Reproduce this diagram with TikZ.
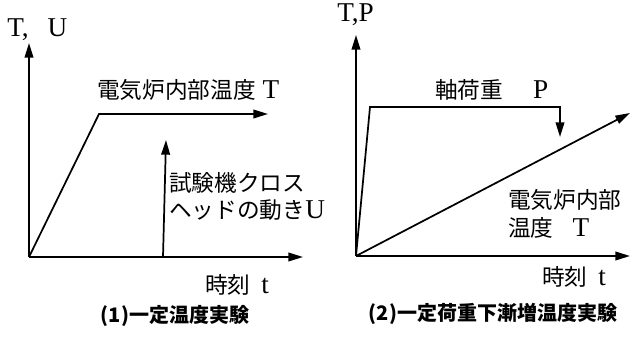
\documentclass[tikz,border=0pt]{standalone}
\usepackage{fontspec}
\setmainfont{Liberation Serif}[Scale=1.2]
\newfontfamily\cjk{Noto Sans CJK JP}
\usetikzlibrary{arrows.meta}
\tikzset{
  ax/.style={line width=1.3pt,-{Triangle[length=11pt,width=6.5pt]}},
  lbl/.style={anchor=west,inner sep=0pt,font=\fontsize{17}{19}\selectfont},
  captxt/.style={inner sep=0pt,font=\cjk\bfseries\fontsize{15}{17}\selectfont}
}
\begin{document}
\begin{tikzpicture}[x=0.75pt,y=-0.75pt]
\useasboundingbox (0,0) rectangle (635,338);
% left panel
\coordinate (O1) at (29,257);
\coordinate (Y1) at (29,43);
\coordinate (X1) at (303,257);
\coordinate (Ta) at (99,114);
\coordinate (Tb) at (268,114);
\coordinate (Ua) at (163,257);
\coordinate (Ub) at (166,140);
\draw[ax] (O1) -- (Y1);
\draw[ax] (O1) -- (X1);
\draw[ax] (O1) -- (Ta) -- (Tb);
\draw[ax] (Ua) -- (Ub);
\node[lbl] (ly1) at (7,30) {T,\hspace{0.7em}U};
\node[lbl] (lt1) at (97,90) {{\cjk 電気炉内部温度} T};
\node[lbl] (lu1) at (169,183) {\cjk 試験機クロス};
\node[lbl] (lu2) at (169,210) {{\cjk ヘッドの動き}U};
\node[lbl] (lx1) at (205,285) {{\cjk 時刻}\hspace{0.4em}t};
\node[captxt] (c1) at (175,316) {(1)一定温度実験};
% right panel
\coordinate (O2) at (356,256);
\coordinate (Y2) at (356,35);
\coordinate (X2) at (630,256);
\coordinate (P1) at (370,107);
\coordinate (P2) at (560,107);
\coordinate (P3) at (560,137);
\coordinate (T2) at (630,113);
\draw[ax] (O2) -- (Y2);
\draw[ax] (O2) -- (X2);
\draw[ax] (O2) -- (P1) -- (P2) -- (P3);
\draw[ax] (O2) -- (T2);
\node[lbl] (ly2) at (337,15) {T,P};
\node[lbl] (lp2) at (435,90) {{\cjk 軸荷重}\hspace{1.1em}P};
\node[lbl] (lt2a) at (508,200) {\cjk 電気炉内部};
\node[lbl] (lt2b) at (508,228) {{\cjk 温度}\hspace{0.7em}T};
\node[lbl] (lx2) at (542,277) {{\cjk 時刻}\hspace{0.4em}t};
\node[captxt] (c2) at (493,314) {(2)一定荷重下漸増温度実験};
\end{tikzpicture}
\end{document}
